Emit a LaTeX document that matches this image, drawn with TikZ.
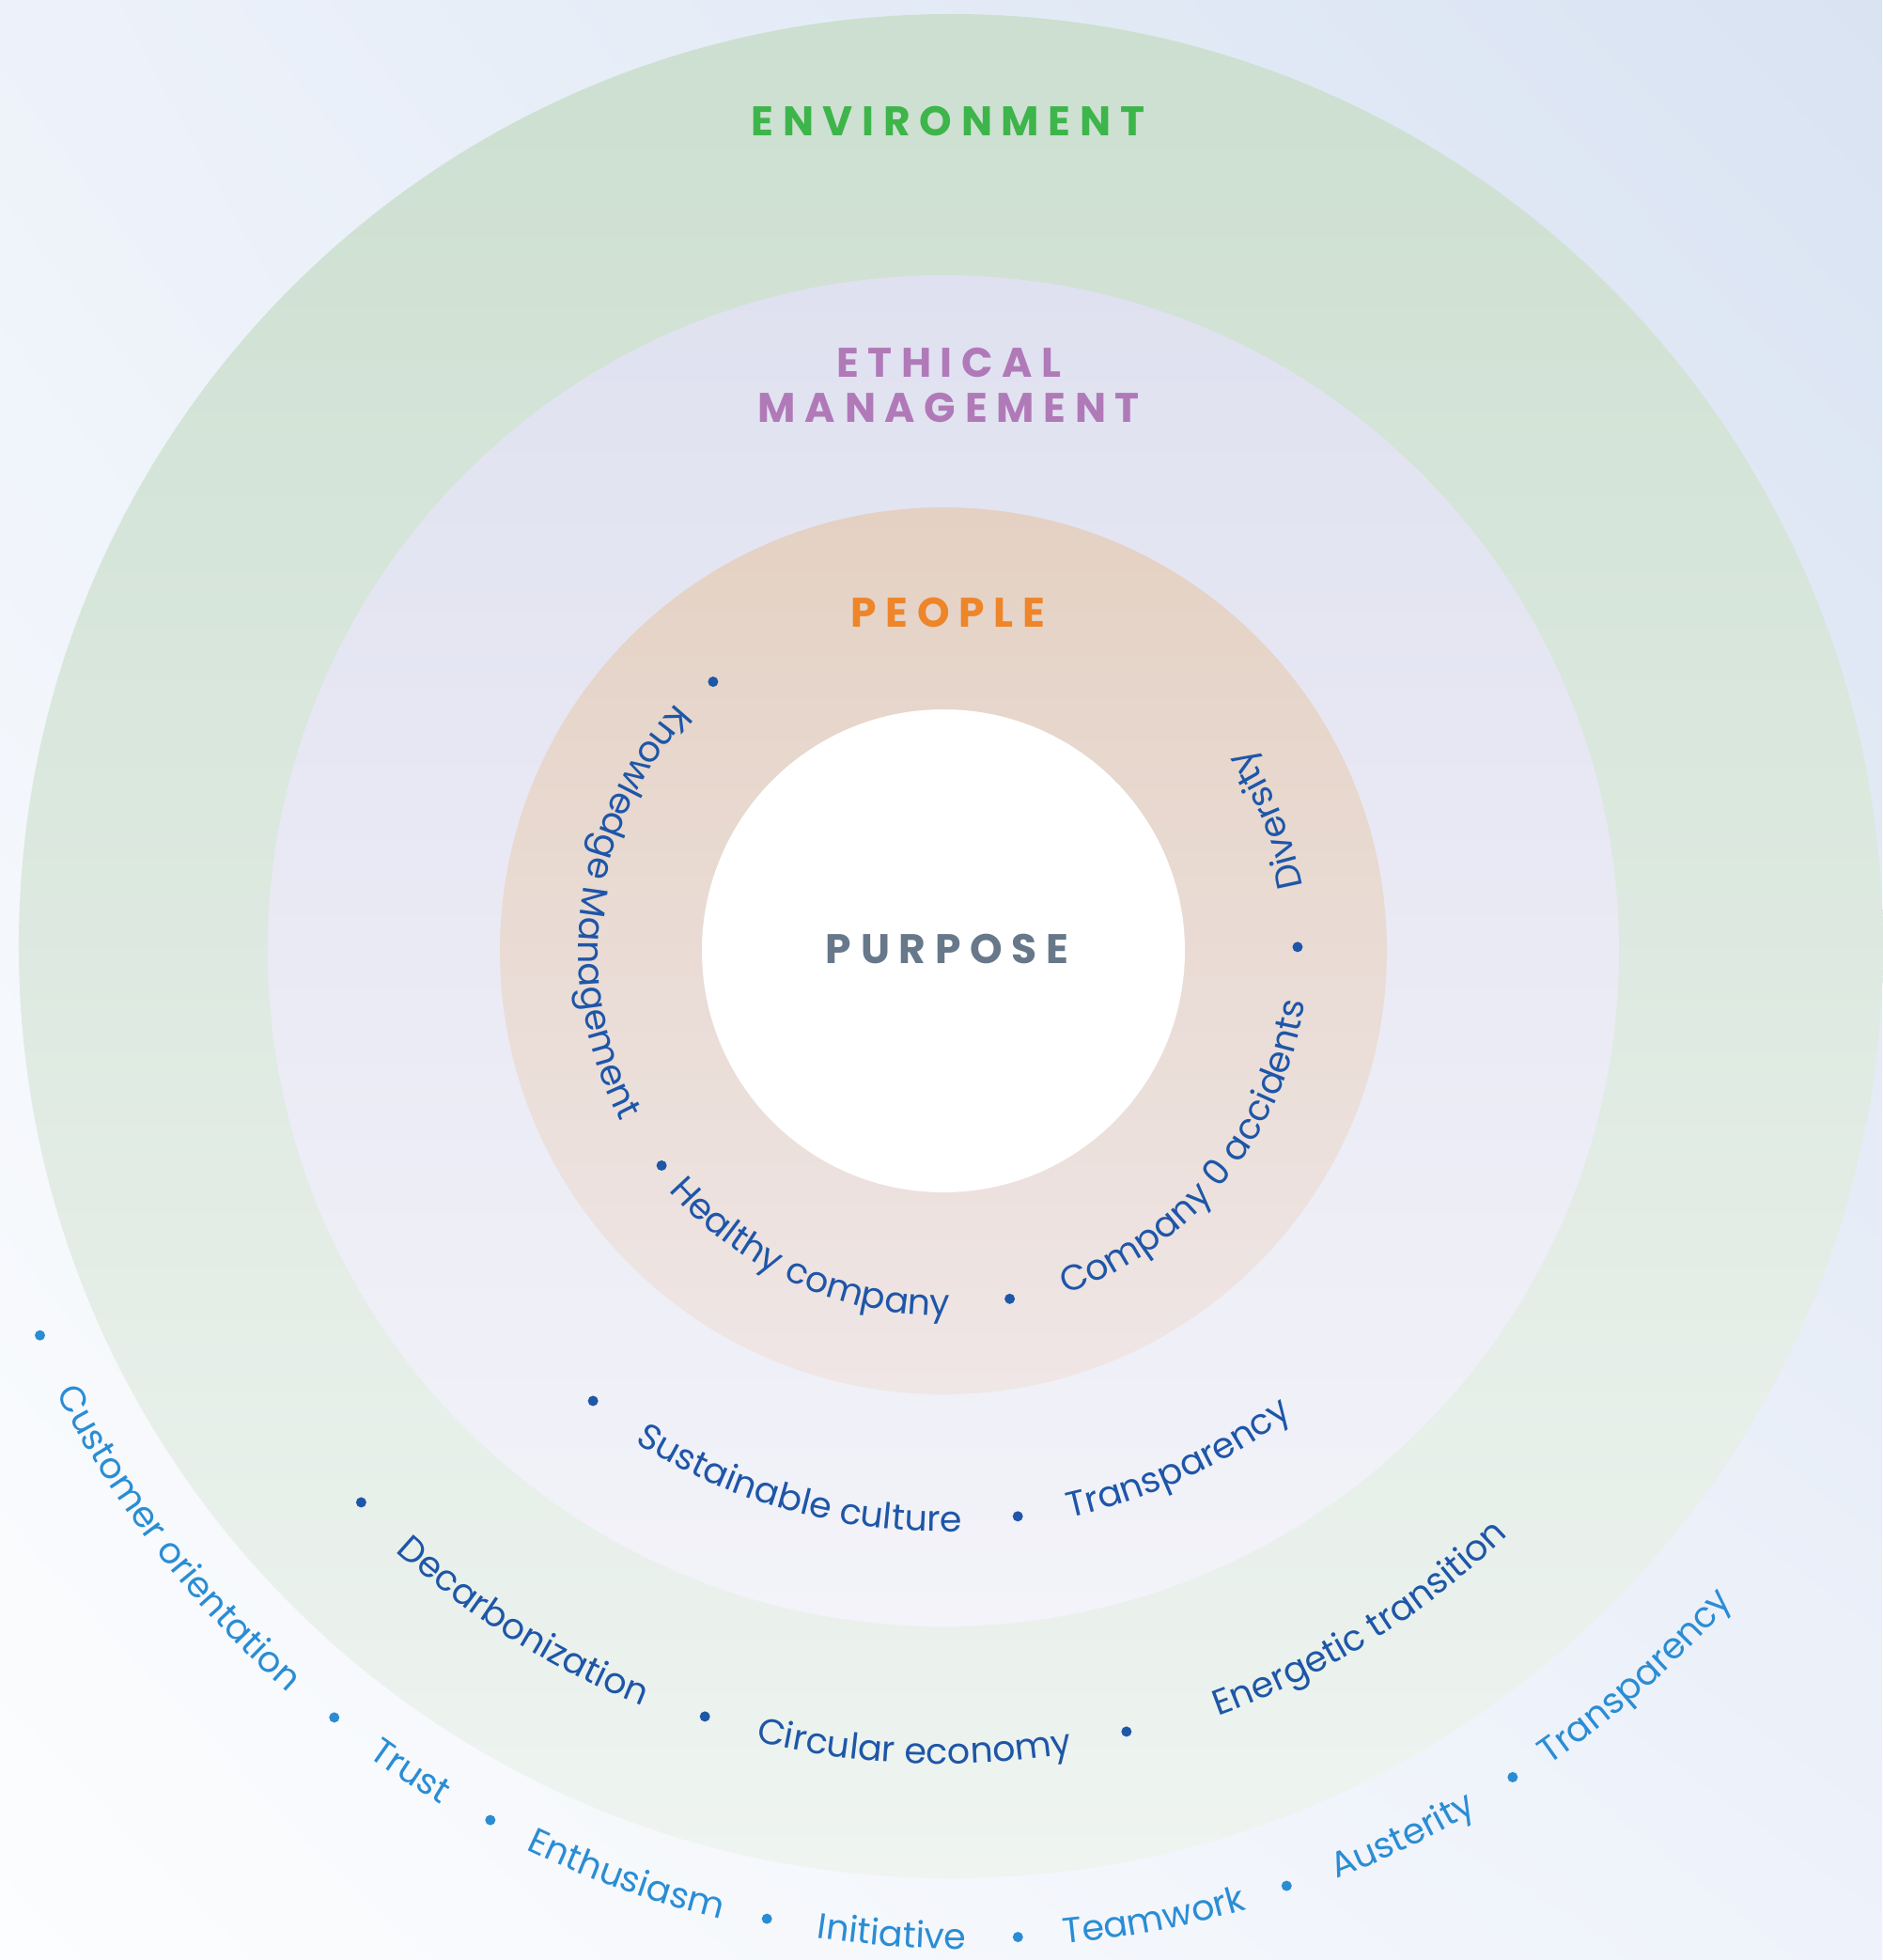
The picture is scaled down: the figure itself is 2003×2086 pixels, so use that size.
\documentclass[tikz,border=0pt]{standalone}
\usepackage{fontspec}
\setmainfont{Poppins}
\usetikzlibrary{decorations.text,shadings}

\definecolor{bgUL}{HTML}{EDF2FA}
\definecolor{bgUR}{HTML}{D9E3F2}
\definecolor{bgLL}{HTML}{FCFDFE}
\definecolor{bgLR}{HTML}{EEF2FA}
\definecolor{envTop}{HTML}{CCDFD0}
\definecolor{envMid}{HTML}{D8E6DA}
\definecolor{envBot}{HTML}{EFF4F1}
\definecolor{ethTop}{HTML}{E0E1F0}
\definecolor{ethMid}{HTML}{E8E8F4}
\definecolor{ethBot}{HTML}{F3F3F9}
\definecolor{pplTop}{HTML}{E4D1C3}
\definecolor{pplBot}{HTML}{EFE6E6}
\definecolor{envGreen}{HTML}{3DB54A}
\definecolor{ethMauve}{HTML}{B07AB8}
\definecolor{pplOrange}{HTML}{EE8529}
\definecolor{purpGrey}{HTML}{66788A}
\definecolor{darkBlue}{HTML}{1E56A8}
\definecolor{lightBlue}{HTML}{2A8DD4}

\newfontfamily\titlefont[LetterSpace=22]{Poppins}
\newcommand{\bodysize}{\fontsize{19pt}{22pt}\selectfont}

% text centred on a circular arc (counter-clockwise, letters facing the centre)
\newcommand{\arcword}[5]{%
  \path[decorate, decoration={text along path, text align=center,
        text={|\bodysize\color{#4}|#5}}]
    (#1) ++({#3-60}:#2) arc[start angle={#3-60}, end angle={#3+60}, radius=#2];
}
\newcommand{\arcdot}[4]{%
  \fill[#4] (#1) ++(#3:#2) circle[radius=5.5];
}

\begin{document}
\begin{tikzpicture}[x=0.5pt, y=0.5pt,
  title/.style={font=\titlefont\bfseries\fontsize{22pt}{26pt}\selectfont, inner sep=0pt, anchor=center}]

\useasboundingbox (-1004,-1074) rectangle (999,1012);
\shade[upper left=bgUL, upper right=bgUR, lower left=bgLL, lower right=bgLR]
  (-1004,-1074) rectangle (999,1012);

\coordinate (c) at (0,0);
\coordinate (ce) at (8,5);
\coordinate (co) at (23,25);

% concentric rings
\shade[top color=envTop, middle color=envMid, bottom color=envBot] (ce) circle[radius=992];
\shade[top color=ethTop, middle color=ethMid, bottom color=ethBot] (c) circle[radius=719];
\shade[top color=pplTop, bottom color=pplBot] (c) circle[radius=472];
\fill[white] (c) circle[radius=257];

% ring titles
\node[title, text=envGreen] (env) at (5,883) {ENVIRONMENT};
\node[title, text=ethMauve] (eth1) at (6,626) {ETHICAL};
\node[title, text=ethMauve] (eth2) at (6,578) {MANAGEMENT};
\node[title, text=pplOrange] (ppl) at (5,360) {PEOPLE};
\node[title, text=purpGrey] (purp) at (4,2) {PURPOSE};

% people ring
\foreach \a in {130.55,217.3,280.8,0.63} {\arcdot{c}{377}{\a}{darkBlue}}
\arcword{c}{388}{172.55}{darkBlue}{Knowledge Management}
\arcword{c}{388}{246.1}{darkBlue}{Healthy company}
\arcword{c}{388}{320.8}{darkBlue}{Company 0 accidents}
\arcword{c}{388}{21.95}{darkBlue}{Diversity}

% ethical management ring
\foreach \a in {232.1,277.5} {\arcdot{c}{607}{\a}{darkBlue}}
\arcword{c}{618}{254.85}{darkBlue}{Sustainable culture}
\arcword{c}{618}{294.75}{darkBlue}{Transparency}

% environment ring
\foreach \a in {223.45,252.7,283.2} {\arcdot{c}{853.5}{\a}{darkBlue}}
\arcword{c}{865}{237.95}{darkBlue}{Decarbonization}
\arcword{c}{865}{267.9}{darkBlue}{Circular economy}
\arcword{c}{865}{301.9}{darkBlue}{Energetic transition}

% values along the outside
\foreach \a in {203.8,231.4,242.0,258.7,273.0,288.55,302.8} {\arcdot{co}{1076}{\a}{lightBlue}}
\arcword{co}{1087}{217.8}{lightBlue}{Customer orientation}
\arcword{co}{1087}{236.7}{lightBlue}{Trust}
\arcword{co}{1087}{250.35}{lightBlue}{Enthusiasm}
\arcword{co}{1087}{265.85}{lightBlue}{Initiative}
\arcword{co}{1087}{280.8}{lightBlue}{Teamwork}
\arcword{co}{1087}{295.7}{lightBlue}{Austerity}
\arcword{co}{1087}{311.8}{lightBlue}{Transparency}

\end{tikzpicture}
\end{document}
